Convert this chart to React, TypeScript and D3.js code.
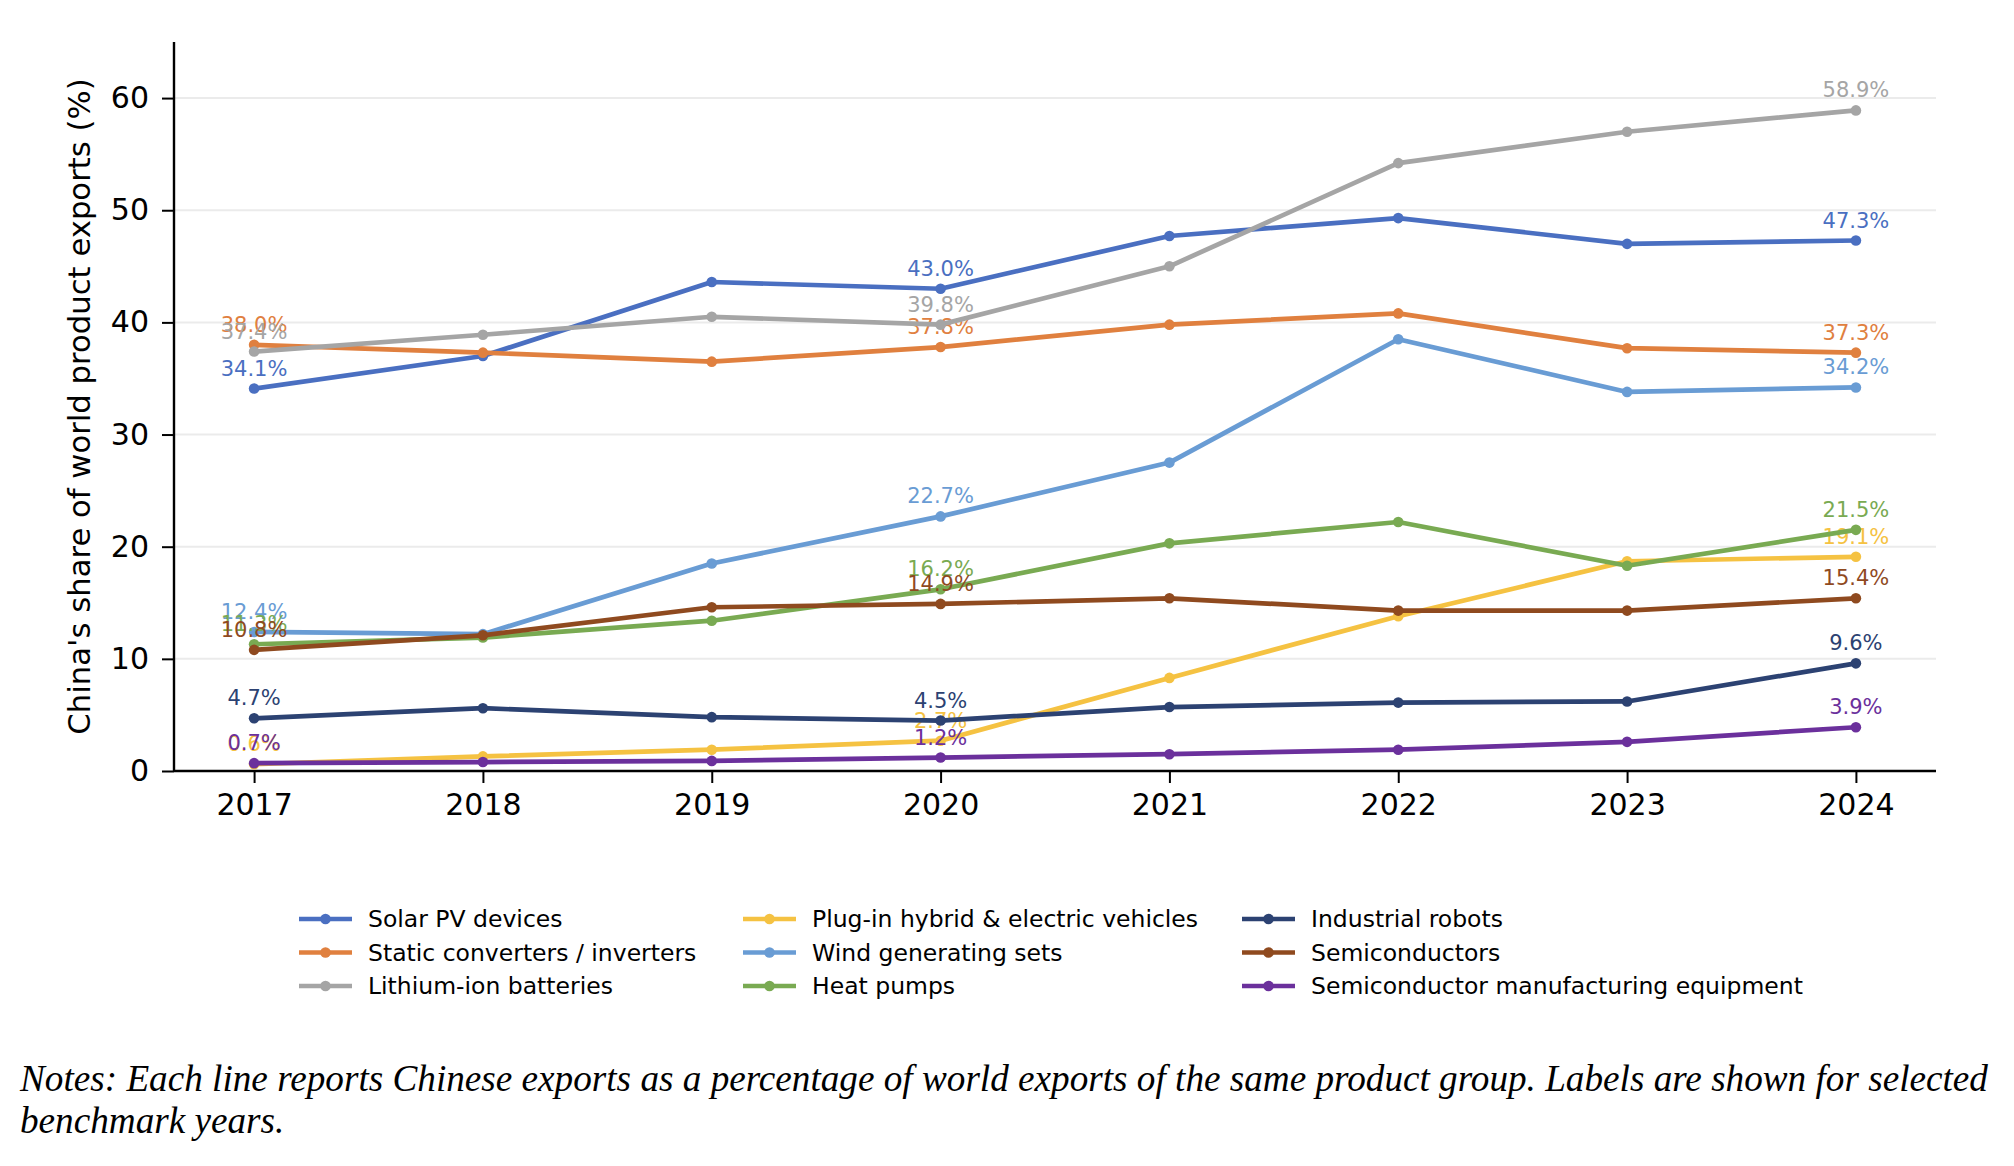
import { useRef, useEffect } from "react";
import * as d3 from "d3";

const years = [2017, 2018, 2019, 2020, 2021, 2022, 2023, 2024];
const labelYears = [2017, 2020, 2024];

const solarPV = [34.1, 37.0, 43.6, 43.0, 47.7, 49.3, 47.0, 47.3];
const staticConverters = [38.0, 37.3, 36.5, 37.8, 39.8, 40.8, 37.7, 37.3];
const lithiumIon = [37.4, 38.9, 40.5, 39.8, 45.0, 54.2, 57.0, 58.9];
const plugInEV = [0.6, 1.3, 1.9, 2.7, 8.3, 13.8, 18.7, 19.1];
const windSets = [12.4, 12.2, 18.5, 22.7, 27.5, 38.5, 33.8, 34.2];
const heatPumps = [11.3, 11.9, 13.4, 16.2, 20.3, 22.2, 18.3, 21.5];
const industrialRobots = [4.7, 5.6, 4.8, 4.5, 5.7, 6.1, 6.2, 9.6];
const semiconductors = [10.8, 12.1, 14.6, 14.9, 15.4, 14.3, 14.3, 15.4];
const semiEquipment = [0.7, 0.8, 0.9, 1.2, 1.5, 1.9, 2.6, 3.9];

const seriesNames = [
  "Solar PV devices",
  "Static converters / inverters",
  "Lithium-ion batteries",
  "Plug-in hybrid & electric vehicles",
  "Wind generating sets",
  "Heat pumps",
  "Industrial robots",
  "Semiconductors",
  "Semiconductor manufacturing equipment",
];
const seriesValues = [
  solarPV,
  staticConverters,
  lithiumIon,
  plugInEV,
  windSets,
  heatPumps,
  industrialRobots,
  semiconductors,
  semiEquipment,
];
const seriesColors = [
  "#4a6fc1",
  "#e0803f",
  "#a5a5a5",
  "#f5c242",
  "#699cd4",
  "#79aa52",
  "#2c4272",
  "#8f4a1f",
  "#6b309c",
];
const yTicks = [0, 10, 20, 30, 40, 50, 60];

const noteLines = [
  "Notes: Each line reports Chinese exports as a percentage of world exports of the same product group. Labels are shown for selected",
  "benchmark years.",
];

type Series = { name: string; color: string; values: number[] };

const App = () => {
  const ref = useRef<SVGSVGElement | null>(null);

  useEffect(() => {
    if (!ref.current) return;
    const svg = d3.select(ref.current);
    svg.selectAll("*").remove();

    const width = 2014;
    const height = 1166;
    const margin = { top: 42, right: 78, bottom: 395, left: 174 };
    const sans = "DejaVu Sans, sans-serif";

    const series: Series[] = seriesNames.map((name, i) => ({
      name,
      color: seriesColors[i],
      values: seriesValues[i],
    }));

    const x = d3
      .scaleLinear()
      .domain([2016.65, 2024.35])
      .range([margin.left, width - margin.right]);
    const y = d3
      .scaleLinear()
      .domain([0, 65])
      .range([height - margin.bottom, margin.top]);

    svg.attr("viewBox", `0 0 ${width} ${height}`);
    svg.append("rect").attr("width", width).attr("height", height).attr("fill", "#fff");

    // Grid
    svg
      .append("g")
      .selectAll("line")
      .data(yTicks.filter((t) => t > 0))
      .join("line")
      .attr("x1", margin.left)
      .attr("x2", width - margin.right)
      .attr("y1", (d) => y(d))
      .attr("y2", (d) => y(d))
      .attr("stroke", "#ebebeb")
      .attr("stroke-width", 2);

    // Axes
    const xAxis = svg
      .append("g")
      .attr("transform", `translate(0,${height - margin.bottom})`)
      .call(
        d3
          .axisBottom(x)
          .tickValues(years)
          .tickFormat((d) => String(d))
          .tickSize(12)
          .tickPadding(11) as any
      );
    const yAxis = svg
      .append("g")
      .attr("transform", `translate(${margin.left},0)`)
      .call(d3.axisLeft(y).tickValues(yTicks).tickSize(12).tickPadding(13) as any);

    [xAxis, yAxis].forEach((g) => {
      g.select(".domain").attr("stroke", "#000").attr("stroke-width", 2.4);
      g.selectAll(".tick line").attr("stroke", "#000").attr("stroke-width", 2);
      g.selectAll(".tick text")
        .attr("fill", "#000")
        .attr("font-family", sans)
        .attr("font-size", 30);
    });
    xAxis.select(".domain").attr("d", `M${margin.left},0H${width - margin.right}`);
    yAxis.select(".domain").attr("d", `M0,${height - margin.bottom}V${margin.top}`);

    svg
      .append("text")
      .attr("transform", `translate(79,${(margin.top + height - margin.bottom) / 2}) rotate(-90)`)
      .attr("text-anchor", "middle")
      .attr("dominant-baseline", "central")
      .attr("font-family", sans)
      .attr("font-size", 30.7)
      .attr("fill", "#000")
      .text("China's share of world product exports (%)");

    // Lines, markers and labels
    const line = d3
      .line<number>()
      .x((_, i) => x(years[i]))
      .y((d) => y(d));

    series.forEach((s) => {
      const g = svg.append("g");
      g.append("path")
        .attr("d", line(s.values))
        .attr("fill", "none")
        .attr("stroke", s.color)
        .attr("stroke-width", 4.7)
        .attr("stroke-linejoin", "round")
        .attr("stroke-linecap", "round");
      g.selectAll("circle")
        .data(s.values)
        .join("circle")
        .attr("cx", (_, i) => x(years[i]))
        .attr("cy", (d) => y(d))
        .attr("r", 5.3)
        .attr("fill", s.color);
      g.selectAll("text")
        .data(s.values.map((v, i) => ({ v, yr: years[i] })).filter((d) => labelYears.includes(d.yr)))
        .join("text")
        .attr("x", (d) => x(d.yr))
        .attr("y", (d) => y(d.v) - 13)
        .attr("text-anchor", "middle")
        .attr("font-family", sans)
        .attr("font-size", 21)
        .attr("fill", s.color)
        .text((d) => `${d.v.toFixed(1)}%`);
    });

    // Legend
    const colX = [299, 743, 1242];
    const rowY = [919, 952.5, 986];
    const legend = svg
      .append("g")
      .selectAll("g")
      .data(series)
      .join("g")
      .attr("transform", (_, i) => `translate(${colX[Math.floor(i / 3)]},${rowY[i % 3]})`);
    legend
      .append("line")
      .attr("x1", 0)
      .attr("x2", 53)
      .attr("stroke", (d) => d.color)
      .attr("stroke-width", 4.7);
    legend
      .append("circle")
      .attr("cx", 26.5)
      .attr("r", 5.3)
      .attr("fill", (d) => d.color);
    legend
      .append("text")
      .attr("x", 69)
      .attr("dominant-baseline", "central")
      .attr("font-family", sans)
      .attr("font-size", 23.5)
      .attr("fill", "#000")
      .text((d) => d.name);

    // Notes
    svg
      .append("g")
      .selectAll("text")
      .data(noteLines)
      .join("text")
      .attr("x", 20)
      .attr("y", (_, i) => 1091 + i * 42)
      .attr("font-family", "Liberation Serif, Times New Roman, serif")
      .attr("font-style", "italic")
      .attr("font-size", 37.2)
      .attr("fill", "#000")
      .text((d) => d);
  }, []);

  return (
    <svg
      ref={ref}
      width={2014}
      height={1166}
      style={{ position: "absolute", left: 0, top: 0, display: "block" }}
    />
  );
};

export default App;
